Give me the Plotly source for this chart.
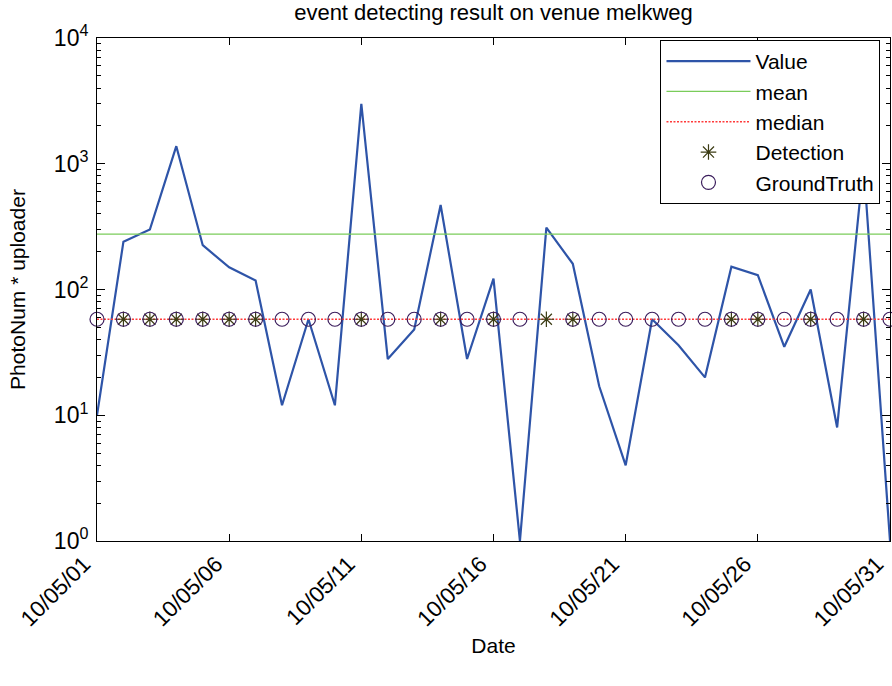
import plotly.graph_objects as go

# ---- data ----
days = list(range(1, 32))  # day of month, May 2010
values = [10, 240, 300, 1380, 225, 150, 118, 12, 58, 12,
          3000, 28, 48, 470, 28, 122, 1, 310, 160, 17,
          4, 58, 36, 20, 152, 130, 35, 100, 8, 1000, 1]
mean_value = 276
median_value = 58
detection_days = [2, 3, 4, 5, 6, 7, 11, 14, 16, 18, 19, 25, 26, 28, 30]
groundtruth_days = [d for d in days if d != 18]
xtick_days = [1, 6, 11, 16, 21, 26, 31]
xtick_labels = ["10/05/01", "10/05/06", "10/05/11", "10/05/16",
                "10/05/21", "10/05/26", "10/05/31"]
ytick_vals = [1, 10, 100, 1000, 10000]
ytick_text = ["10<sup>0</sup>", "10<sup>1</sup>", "10<sup>2</sup>",
              "10<sup>3</sup>", "10<sup>4</sup>"]
yminor_vals = [m * 10 ** k for k in range(4) for m in range(2, 10)]

FONT = "Liberation Sans, Arial, sans-serif"

fig = go.Figure()
fig.add_trace(go.Scatter(x=days, y=values, mode="lines", name="Value",
                         line=dict(color="#2e54a8", width=2.2)))
fig.add_trace(go.Scatter(x=days, y=[mean_value] * len(days), mode="lines", name="mean",
                         line=dict(color="#7acc5a", width=1.3)))
fig.add_trace(go.Scatter(x=days, y=[median_value] * len(days), mode="lines", name="median",
                         line=dict(color="#ff3a3a", width=1.4, dash="2px,1.5px")))
fig.add_trace(go.Scatter(x=detection_days, y=[median_value] * len(detection_days),
                         mode="markers", name="Detection", cliponaxis=False,
                         marker=dict(symbol="asterisk-open", size=13, color="#3c3c14",
                                     line=dict(color="#3c3c14", width=1.2))))
fig.add_trace(go.Scatter(x=groundtruth_days, y=[median_value] * len(groundtruth_days),
                         mode="markers", name="GroundTruth", cliponaxis=False,
                         marker=dict(symbol="circle-open", size=14, color="#3b1d5c",
                                     line=dict(color="#3b1d5c", width=1.2))))

fig.update_layout(
    width=892, height=686,
    margin=dict(l=97, r=2, t=38, b=145),
    paper_bgcolor="white", plot_bgcolor="white",
    font=dict(family=FONT, color="black", size=21),
    title=dict(text="event detecting result on venue melkweg", x=0.5, xref="paper",
               y=0.994, yanchor="top", font=dict(size=22, family=FONT)),
    showlegend=True,
    legend=dict(x=0.988, xanchor="right", y=0.996, yanchor="top",
                bgcolor="white", bordercolor="black", borderwidth=1,
                font=dict(size=21, family=FONT), itemwidth=84,
                tracegroupgap=0),
    xaxis=dict(range=[1, 31], automargin=False,
               tickmode="array", tickvals=xtick_days, ticktext=xtick_labels,
               tickangle=-45, tickfont=dict(size=22.5), ticklabeloverflow="allow",
               ticklabelshift=-13,
               ticks="inside", ticklen=7, tickcolor="black",
               showline=True, linecolor="black", linewidth=1, mirror="ticks",
               showgrid=False, zeroline=False,
               title=dict(text="Date", font=dict(size=21), standoff=8)),
    yaxis=dict(type="log", range=[0, 4], automargin=False,
               tickmode="array", tickvals=ytick_vals, ticktext=ytick_text,
               tickfont=dict(size=23), ticklabelstandoff=3, ticklabeloverflow="allow",
               ticks="inside", ticklen=8, tickcolor="black",
               showline=True, linecolor="black", linewidth=1, mirror="ticks",
               showgrid=False, zeroline=False,
               minor=dict(tickmode="array", tickvals=yminor_vals, ticks="inside",
                          ticklen=4, tickcolor="black", showgrid=False),
               title=dict(text="PhotoNum * uploader", font=dict(size=21), standoff=22)),
)

fig.write_html(
    "out.html",
    config={"displayModeBar": False},
    post_script="document.body.style.margin='0';document.body.style.overflow='hidden';",
)
